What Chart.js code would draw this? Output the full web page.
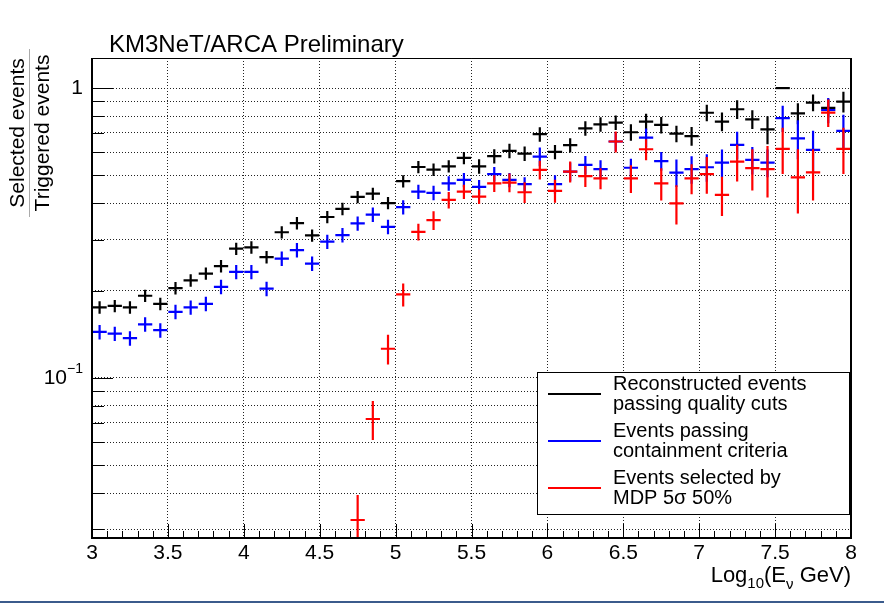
<!DOCTYPE html>
<html>
<head>
<meta charset="utf-8">
<title>KM3NeT/ARCA selection efficiency</title>
<script src="https://cdn.jsdelivr.net/npm/chart.js@4.4.0/dist/chart.umd.min.js"></script>
<style>
  html, body { margin: 0; padding: 0; background: #fff; }
</style>
</head>
<body>
<canvas id="effChart" width="884" height="606"></canvas>
<script>
// Bin centres, log10(E/GeV), bin width 0.1
const binCenters = [3.05, 3.15, 3.25, 3.35, 3.45, 3.55, 3.65, 3.75, 3.85, 3.95,
                    4.05, 4.15, 4.25, 4.35, 4.45, 4.55, 4.65, 4.75, 4.85, 4.95,
                    5.05, 5.15, 5.25, 5.35, 5.45, 5.55, 5.65, 5.75, 5.85, 5.95,
                    6.05, 6.15, 6.25, 6.35, 6.45, 6.55, 6.65, 6.75, 6.85, 6.95,
                    7.05, 7.15, 7.25, 7.35, 7.45, 7.55, 7.65, 7.75, 7.85, 7.95];

// Reconstructed events passing quality cuts (black)
const recoEff = [0.175, 0.177, 0.175, 0.192, 0.180, 0.204, 0.217, 0.229, 0.243, 0.279,
                 0.282, 0.261, 0.318, 0.342, 0.310, 0.359, 0.383, 0.421, 0.432, 0.401,
                 0.477, 0.534, 0.523, 0.537, 0.574, 0.537, 0.582, 0.607, 0.594, 0.693,
                 0.602, 0.635, 0.726, 0.750, 0.760, 0.704, 0.766, 0.746, 0.696, 0.683,
                 0.822, 0.766, 0.845, 0.780, 0.720, 1.000, 0.818, 0.891, 0.854, 0.898];
const recoErr = [0.0086, 0.0087, 0.0086, 0.0094, 0.0088, 0.0100, 0.0106, 0.0112, 0.0119, 0.0137,
                 0.0138, 0.0128, 0.0156, 0.0168, 0.0152, 0.0176, 0.0188, 0.0206, 0.0212, 0.0196,
                 0.0234, 0.026, 0.026, 0.026, 0.028, 0.031, 0.033, 0.035, 0.034, 0.040,
                 0.034, 0.036, 0.042, 0.043, 0.044, 0.046, 0.050, 0.049, 0.046, 0.051,
                 0.054, 0.057, 0.063, 0.058, 0.080, 0, 0.068, 0.059, 0.063, 0.074];

// Events passing containment criteria (blue)
const containEff = [0.144, 0.142, 0.137, 0.153, 0.146, 0.169, 0.175, 0.180, 0.206, 0.232,
                    0.232, 0.203, 0.258, 0.276, 0.248, 0.295, 0.311, 0.341, 0.366, 0.332,
                    0.388, 0.439, 0.435, 0.469, 0.482, 0.456, 0.505, 0.482, 0.466, 0.580,
                    0.466, 0.515, 0.543, 0.525, 0.654, 0.531, 0.675, 0.560, 0.511, 0.525,
                    0.533, 0.553, 0.637, 0.565, 0.553, 0.787, 0.671, 0.612, 0.840, 0.712];
const containErr = [0.0083, 0.0081, 0.0079, 0.0088, 0.0084, 0.0097, 0.0100, 0.0103, 0.0118, 0.0133,
                    0.0133, 0.0116, 0.0148, 0.0158, 0.0142, 0.0169, 0.0178, 0.0195, 0.0210, 0.0190,
                    0.0222, 0.0252, 0.0249, 0.0269, 0.0276, 0.0261, 0.0289, 0.0276, 0.0267, 0.0431,
                    0.0346, 0.0383, 0.0403, 0.0390, 0.0486, 0.0395, 0.0502, 0.0416, 0.0557, 0.0572,
                    0.0581, 0.0603, 0.0694, 0.0616, 0.0603, 0.0818, 0.103, 0.0998, 0.084, 0.0968];

// Events selected by MDP 5 sigma 50% (red), empty below 4.7
const mdpEff = [null, null, null, null, null, null, null, null, null, null,
                null, null, null, null, null, null, null, 0.0323, 0.0721, 0.126,
                0.194, 0.319, 0.350, 0.411, 0.439, 0.422, 0.469, 0.472, 0.437, 0.522,
                0.442, 0.515, 0.497, 0.488, 0.654, 0.488, 0.615, 0.469, 0.400, 0.488,
                0.505, 0.428, 0.557, 0.529, 0.525, 0.617, 0.492, 0.512, 0.823, 0.617];
const mdpErr = [null, null, null, null, null, null, null, null, null, null,
                null, null, null, null, null, null, null, 0.0071, 0.0111, 0.0149,
                0.0177, 0.021, 0.026, 0.027, 0.0252, 0.0242, 0.0309, 0.0351, 0.0362, 0.0388,
                0.0404, 0.0427, 0.0412, 0.0405, 0.0542, 0.0532, 0.051, 0.0596, 0.0616, 0.0576,
                0.0732, 0.0659, 0.0808, 0.0862, 0.1055, 0.1123, 0.123, 0.103, 0.0897, 0.1123];

const seriesLabels = [
    ['Reconstructed events', 'passing quality cuts'],
    ['Events passing', 'containment criteria'],
    ['Events selected by', 'MDP 5\u03c3 50%']
];
const seriesColors = ['#000000', '#0000ff', '#ff0000'];

// Axis ticks
const xTickValues = [3, 3.5, 4, 4.5, 5, 5.5, 6, 6.5, 7, 7.5, 8];
const xTickLabels = ['3', '3.5', '4', '4.5', '5', '5.5', '6', '6.5', '7', '7.5', '8'];
const yGridValues = [0.03, 0.04, 0.05, 0.06, 0.07, 0.08, 0.09,
                     0.1, 0.2, 0.3, 0.4, 0.5, 0.6, 0.7, 0.8, 0.9, 1];
const yLabelValues = [1, 0.1];
const yLabelBase = ['1', '10'];
const yLabelExp = ['', '\u22121'];

const binHalfWidth = 0.047;
const FONT = '"Liberation Sans", Arial, Helvetica, sans-serif';

function makePoints(vals, errs) {
    const pts = [];
    binCenters.forEach((x, i) => {
        if (vals[i] !== null) pts.push({ x: x, y: vals[i], e: errs[i] });
    });
    return pts;
}

// Draws ROOT-style error crosses, frame, ticks, labels and legend
const rootStyle = {
    id: 'rootStyle',
    beforeDraw(chart) {
        const ctx = chart.ctx;
        ctx.save();
        ctx.fillStyle = '#ffffff';
        ctx.fillRect(0, 0, chart.width, chart.height);
        ctx.restore();
    },
    afterDatasetsDraw(chart) {
        const { ctx, chartArea: a, scales: { x, y } } = chart;
        ctx.save();
        ctx.beginPath();
        ctx.rect(a.left, a.top, a.right - a.left, a.bottom - a.top);
        ctx.clip();
        ctx.lineWidth = 2.2;
        chart.data.datasets.forEach(ds => {
            ctx.strokeStyle = ds.borderColor;
            ds.data.forEach(p => {
                const px = x.getPixelForValue(p.x);
                const py = y.getPixelForValue(p.y);
                ctx.beginPath();
                ctx.moveTo(x.getPixelForValue(p.x - binHalfWidth), py);
                ctx.lineTo(x.getPixelForValue(p.x + binHalfWidth), py);
                if (p.e > 0) {
                    ctx.moveTo(px, y.getPixelForValue(p.y + p.e));
                    ctx.lineTo(px, y.getPixelForValue(Math.max(p.y - p.e, 0.001)));
                }
                ctx.stroke();
            });
        });
        ctx.restore();
    },
    afterDraw(chart) {
        const { ctx, chartArea: a, scales: { x, y } } = chart;
        ctx.save();

        // legend box
        const lx = 537, ly = 372, lw = 312, lh = 142;
        ctx.fillStyle = '#fff';
        ctx.fillRect(lx, ly, lw, lh);
        ctx.strokeStyle = '#000';
        ctx.lineWidth = 1;
        ctx.strokeRect(lx + 0.5, ly + 0.5, lw, lh);
        ctx.font = '20px ' + FONT;
        ctx.textBaseline = 'middle';
        ctx.textAlign = 'left';
        seriesLabels.forEach((lines, k) => {
            const cy = 394 + k * 47;
            ctx.strokeStyle = seriesColors[k];
            ctx.lineWidth = 2;
            ctx.beginPath();
            ctx.moveTo(548, cy);
            ctx.lineTo(601, cy);
            ctx.stroke();
            ctx.fillStyle = '#000';
            ctx.fillText(lines[0], 613, cy - 10);
            ctx.fillText(lines[1], 613, cy + 10);
        });

        // frame
        ctx.strokeStyle = '#000';
        ctx.lineWidth = 1;
        ctx.beginPath();
        ctx.moveTo(a.left, a.top + 0.5);
        ctx.lineTo(a.right, a.top + 0.5);
        ctx.stroke();
        ctx.lineWidth = 2;
        ctx.beginPath();
        ctx.moveTo(a.left, a.top);
        ctx.lineTo(a.left, a.bottom);
        ctx.lineTo(a.right, a.bottom);
        ctx.lineTo(a.right, a.top);
        ctx.stroke();

        // x ticks (major every 0.5, minor every 0.1)
        ctx.lineWidth = 1;
        ctx.beginPath();
        for (let k = 0; k <= 50; k++) {
            const v = 3 + k * 0.1;
            const px = Math.round(x.getPixelForValue(v)) + 0.5;
            const len = (k % 5 === 0) ? 14 : 7;
            ctx.moveTo(px, a.bottom);
            ctx.lineTo(px, a.bottom - len);
        }
        // y ticks
        yGridValues.forEach(v => {
            const py = Math.round(y.getPixelForValue(v)) + 0.5;
            const len = yLabelValues.includes(v) ? 21 : 12;
            ctx.moveTo(a.left, py);
            ctx.lineTo(a.left + len, py);
        });
        ctx.stroke();

        // x tick labels
        ctx.fillStyle = '#000';
        ctx.font = '21px ' + FONT;
        ctx.textAlign = 'center';
        ctx.textBaseline = 'top';
        xTickValues.forEach((v, i) => {
            ctx.fillText(xTickLabels[i], x.getPixelForValue(v), a.bottom + 5);
        });

        // y tick labels
        ctx.textBaseline = 'middle';
        yLabelValues.forEach((v, i) => {
            const py = y.getPixelForValue(v);
            ctx.font = '14px ' + FONT;
            const ew = ctx.measureText(yLabelExp[i]).width;
            ctx.textAlign = 'right';
            if (yLabelExp[i]) ctx.fillText(yLabelExp[i], 83, py - 9);
            ctx.font = '21px ' + FONT;
            ctx.fillText(yLabelBase[i], 83 - ew, py);
        });

        // title
        ctx.font = '24px ' + FONT;
        ctx.textAlign = 'left';
        ctx.textBaseline = 'alphabetic';
        ctx.fillText('KM3NeT/ARCA Preliminary', 109, 52);

        // x axis title: Log10(E_nu GeV), right aligned to frame
        const parts = [
            ['Log', 22, 0], ['10', 15, 6], ['(E', 22, 0], ['\u03bd', 15, 7], [' GeV)', 22, 0]
        ];
        let total = 0;
        parts.forEach(p => { ctx.font = p[1] + 'px ' + FONT; total += ctx.measureText(p[0]).width; });
        let tx = a.right - total;
        parts.forEach(p => {
            ctx.font = p[1] + 'px ' + FONT;
            ctx.fillText(p[0], tx, 582 + p[2]);
            tx += ctx.measureText(p[0]).width;
        });

        // y axis title as a fraction
        ctx.translate(29, 133);
        ctx.rotate(-Math.PI / 2);
        ctx.font = '21px ' + FONT;
        ctx.textAlign = 'center';
        ctx.textBaseline = 'alphabetic';
        ctx.fillText('Selected events', 0, -5);
        ctx.fillText('Triggered events', 0, 20);
        ctx.strokeStyle = '#aaa';
        ctx.lineWidth = 1;
        ctx.beginPath();
        ctx.moveTo(-84, 0.5);
        ctx.lineTo(84, 0.5);
        ctx.stroke();
        ctx.restore();

        // slide border line at the bottom
        ctx.save();
        ctx.fillStyle = '#3b5b8c';
        ctx.fillRect(0, 601, chart.width, 2);
        ctx.restore();
    }
};

const ctx = document.getElementById('effChart').getContext('2d');

const effChart = new Chart(ctx, {
    type: 'scatter',
    data: {
        datasets: [
            { label: seriesLabels[0].join(' '), data: makePoints(recoEff, recoErr), borderColor: seriesColors[0], pointRadius: 0 },
            { label: seriesLabels[1].join(' '), data: makePoints(containEff, containErr), borderColor: seriesColors[1], pointRadius: 0 },
            { label: seriesLabels[2].join(' '), data: makePoints(mdpEff, mdpErr), borderColor: seriesColors[2], pointRadius: 0 }
        ]
    },
    options: {
        responsive: false,
        animation: false,
        events: [],
        layout: { padding: { left: 92, top: 58, right: 33, bottom: 68 } },
        plugins: {
            legend: { display: false },
            tooltip: { enabled: false }
        },
        scales: {
            x: {
                type: 'linear',
                min: 3,
                max: 8,
                afterBuildTicks: scale => { scale.ticks = xTickValues.map(v => ({ value: v })); },
                ticks: { display: false },
                grid: { color: '#222', lineWidth: 1, drawTicks: false },
                border: { display: false, dash: [1, 2] }
            },
            y: {
                type: 'logarithmic',
                min: 0.028,
                max: 1.27,
                afterBuildTicks: scale => { scale.ticks = yGridValues.map(v => ({ value: v })); },
                ticks: { display: false },
                grid: { color: '#222', lineWidth: 1, drawTicks: false },
                border: { display: false, dash: [1, 2] }
            }
        }
    },
    plugins: [rootStyle]
});
</script>
</body>
</html>
